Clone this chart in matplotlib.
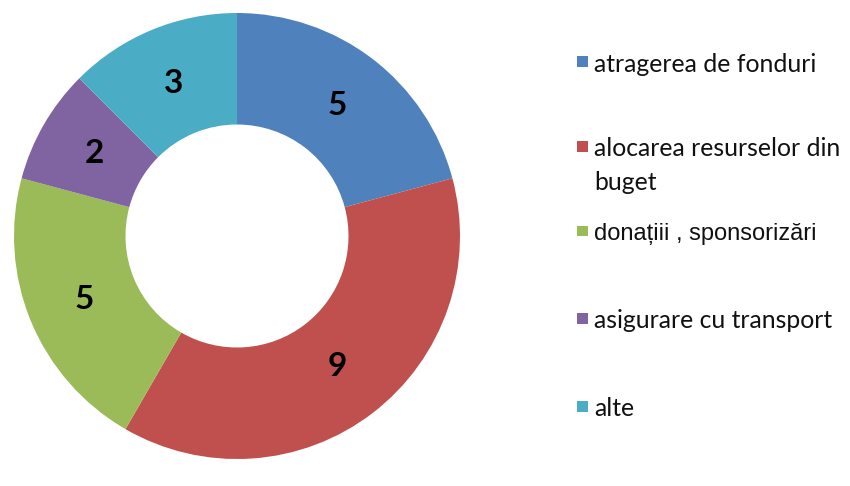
import matplotlib
matplotlib.use("Agg")
import matplotlib.pyplot as plt
from matplotlib.patches import Rectangle

categories = ["atragerea de fonduri", "alocarea resurselor din\nbuget",
              "donațiii , sponsorizări", "asigurare cu transport", "alte"]
values = [5, 9, 5, 2, 3]
colors = ["#4F81BD", "#C0504D", "#9BBB59", "#8064A2", "#4BACC6"]
legend_y = [62, 147, 231, 318, 406]  # pixel centers of first legend line
legend_fonts = [["Lato", "DejaVu Sans"], ["Lato", "DejaVu Sans"],
                ["Liberation Sans", "DejaVu Sans"], ["Lato", "DejaVu Sans"],
                ["Lato", "DejaVu Sans"]]
legend_sizes = [17.8, 17.8, 17.0, 17.8, 17.8]

W, H = 850, 486
fig = plt.figure(figsize=(W/100, H/100), dpi=100)
cx, cy, R = 237, 236, 223
ax = fig.add_axes([(cx-R)/W, (H-(cy+R))/H, 2*R/W, 2*R/H])
wedges, texts = ax.pie(values, colors=colors, startangle=90, counterclock=False,
                       radius=1, labels=[str(v) for v in values], labeldistance=0.74,
                       wedgeprops=dict(width=0.5, edgecolor="none", linewidth=0),
                       textprops=dict(fontsize=24, fontweight="bold", color="black",
                                      family=["Lato", "DejaVu Sans"]))
for t in texts:
    t.set_ha("center"); t.set_va("center")
ax.set_xlim(-1, 1); ax.set_ylim(-1, 1)
ax.set_aspect("equal")
ax.axis("off")

sq = 11
line_gap = 33
for lab, col, y, fam, fs in zip(categories, colors, legend_y, legend_fonts, legend_sizes):
    fig.add_artist(Rectangle((577/W, (H-y-sq/2)/H), sq/W, sq/H,
                             transform=fig.transFigure, facecolor=col, edgecolor="none"))
    for i, line in enumerate(lab.split("\n")):
        fig.text(594/W, (H-(y+i*line_gap))/H, line, fontsize=fs, family=fam,
                 ha="left", va="center_baseline", color="#111111")

fig.savefig("out.png", dpi=100)
